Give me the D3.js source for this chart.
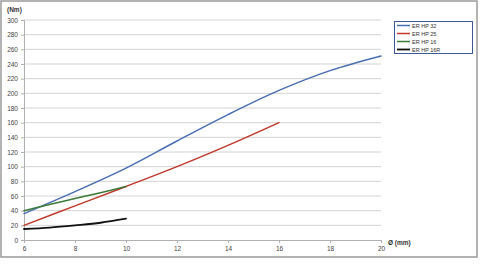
<!DOCTYPE html>
<html><head><meta charset="utf-8">
<script src="https://cdn.jsdelivr.net/npm/d3@7"></script>
<style>html,body{margin:0;padding:0;background:#fff;}svg{display:block;}</style>
</head><body>
<script>
const seriesNames = ["ER HP 32", "ER HP 25", "ER HP 16", "ER HP 16R"];
const seriesColors = ["#4a6fb3", "#c0392b", "#3c7a3a", "#111111"];
const x32 = [6, 8, 10, 12, 14, 16, 18, 20];
const y32 = [36, 66, 98, 135, 171, 204, 231, 251];
const x25 = [6, 8, 10, 12, 14, 16];
const y25 = [20, 46.5, 73, 100, 129, 160];
const x16 = [6, 7, 8, 9, 10];
const y16 = [40, 48.5, 56.5, 64.5, 73];
const x16R = [6, 7, 8, 9, 10];
const y16R = [15, 17, 20, 23.5, 29];
const xTicks = [6, 8, 10, 12, 14, 16, 18, 20];
const yTicks = d3.range(0, 301, 20);

const W = 480, H = 264;
const svg = d3.select("body").append("svg").attr("width", W).attr("height", H);
svg.append("rect").attr("x", 1).attr("y", 1).attr("width", 476).attr("height", 256)
  .attr("fill", "#fff").attr("stroke", "#9a9a9a").attr("stroke-width", 1.5);

const x = d3.scaleLinear().domain([6, 20]).range([24, 381]);
const y = d3.scaleLinear().domain([0, 300]).range([240, 20]);

// grid
svg.append("g").selectAll("line").data(yTicks.filter(d => d > 0)).join("line")
  .attr("x1", 24).attr("x2", 381).attr("y1", d => y(d)).attr("y2", d => y(d))
  .attr("stroke", "#d4d4d4").attr("stroke-width", 1);

const font = "Helvetica, 'Liberation Sans', Arial, sans-serif";
const yAxis = d3.axisLeft(y).tickValues(yTicks).tickSize(3).tickPadding(3);
const gy = svg.append("g").attr("transform", "translate(24,0)").call(yAxis);
const xAxis = d3.axisBottom(x).tickValues(xTicks).tickSize(3).tickPadding(3);
const gx = svg.append("g").attr("transform", "translate(0,240)").call(xAxis);
[gy, gx].forEach(g => {
  g.select(".domain").attr("stroke", "#b0b0b0");
  g.selectAll(".tick line").attr("stroke", "#b0b0b0");
  g.selectAll("text").attr("font-family", font).attr("font-size", 6.5).attr("fill", "#444");
});

svg.append("text").attr("x", 7).attr("y", 12).text("(Nm)")
  .attr("font-family", font).attr("font-size", 6.5).attr("font-weight", "bold").attr("fill", "#333");
svg.append("text").attr("x", 388).attr("y", 245).text("Ø (mm)")
  .attr("font-family", font).attr("font-size", 6.5).attr("font-weight", "bold").attr("fill", "#333");

const data = [
  x32.map((v, i) => [v, y32[i]]),
  x25.map((v, i) => [v, y25[i]]),
  x16.map((v, i) => [v, y16[i]]),
  x16R.map((v, i) => [v, y16R[i]])
];
const line = d3.line().x(d => x(d[0])).y(d => y(d[1])).curve(d3.curveCatmullRom.alpha(0.5));
data.forEach((d, i) => {
  svg.append("path").attr("d", line(d)).attr("fill", "none")
    .attr("stroke", seriesColors[i]).attr("stroke-width", i === 3 ? 1.8 : 1.5)
    .attr("stroke-linecap", "round");
});

// legend
const lg = svg.append("g");
lg.append("rect").attr("x", 394.5).attr("y", 21.5).attr("width", 78).attr("height", 32)
  .attr("fill", "#fff").attr("stroke", "#3d5a99").attr("stroke-width", 1);
seriesNames.forEach((n, i) => {
  const yy = 25.5 + i * 8;
  lg.append("line").attr("x1", 397).attr("x2", 410).attr("y1", yy).attr("y2", yy)
    .attr("stroke", seriesColors[i]).attr("stroke-width", i === 3 ? 1.8 : 1.5);
  lg.append("text").attr("x", 412).attr("y", yy + 2).text(n)
    .attr("font-family", font).attr("font-size", 5.5).attr("fill", "#333");
});
</script>
</body></html>
